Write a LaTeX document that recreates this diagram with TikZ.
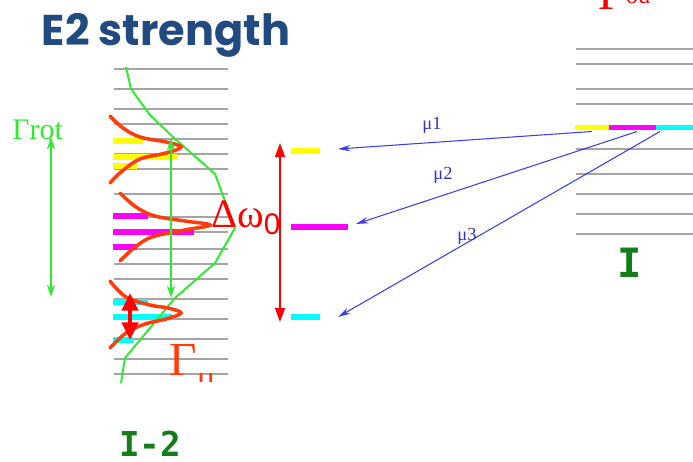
\documentclass[tikz,border=0pt]{standalone}
\usepackage{fontspec}
\setmainfont{Liberation Serif}
\newfontfamily\titlefont{Poppins}
\newfontfamily\bandfont{DejaVu Sans Mono}
\newfontfamily\digitfont{Liberation Sans}
\usepackage{xcolor}
\usepackage{tikz}
\usetikzlibrary{arrows.meta, positioning, calc}

\definecolor{titleblue}{RGB}{33,74,128}
\definecolor{spinred}{RGB}{255,60,10}
\definecolor{envgreen}{RGB}{45,235,45}
\definecolor{labgreen}{RGB}{20,125,25}
\definecolor{mublue}{RGB}{60,60,240}
\definecolor{lvlgray}{RGB}{165,165,165}
\definecolor{lvlyellow}{RGB}{255,255,0}
\definecolor{lvlmagenta}{RGB}{255,0,255}
\definecolor{lvlcyan}{RGB}{0,255,255}

\tikzset{
  %% Level line of a band
  ladder/.style={draw=lvlgray, line width=1.1pt},
  %% Coloured level (node)
  bar/.style={
    rectangle, fill=#1, inner sep=0pt,
    minimum height=1.1mm, outer sep=0pt
  },
  bar/.default=lvlyellow,
  %% Transition arrow
  muarr/.style={-{Stealth[length=7pt,width=3.6pt]},
                draw=mublue, line width=0.6pt},
  mulabel/.style={text=mublue!85!black, inner sep=0pt,
                  font=\fontsize{10.5}{10.5}\selectfont},
  %% Width arrows
  rotarr/.style={{Stealth[length=7pt,width=4.6pt]}-{Stealth[length=7pt,width=4.6pt]},
                 draw=envgreen, line width=1.1pt},
  widtharr/.style={{Triangle[length=8pt,width=5.6pt]}-{Triangle[length=8pt,width=5.6pt]},
                   draw=red, line width=1.2pt},
  gammaarr/.style={{Triangle[length=10pt,width=9pt]}-{Triangle[length=10pt,width=9pt]},
                   draw=red, line width=2.4pt},
  %% Strength curves
  peak/.style={draw=spinred, line width=2pt, line cap=round},
  envelope/.style={draw=envgreen, line width=1.1pt},
  %% Band names
  bandname/.style={text=labgreen, inner sep=0pt, anchor=base},
}

\begin{document}
\begin{tikzpicture}[x=0.2mm, y=-0.2mm]
  \useasboundingbox (0,0) rectangle (693,462);

  %% Title
  \node[anchor=base, text=titleblue, font=\titlefont\bfseries\fontsize{24.5}{24.5}\selectfont]
       (title) at (166,45) {E2 strength};

  %% Band I-2 (left)
  \draw[ladder] (114,69)  -- (228,69);
  \draw[ladder] (114,89)  -- (228,89);
  \draw[ladder] (114,109) -- (228,109);
  \draw[ladder] (114,124) -- (228,124);
  \draw[ladder] (114,139) -- (228,139);
  \draw[ladder] (114,154) -- (228,154);
  \draw[ladder] (114,169) -- (228,169);
  \draw[ladder] (114,194) -- (228,194);
  \draw[ladder] (114,217) -- (228,217);
  \draw[ladder] (114,232) -- (228,232);
  \draw[ladder] (114,249) -- (228,249);
  \draw[ladder] (114,264) -- (228,264);
  \draw[ladder] (114,279) -- (228,279);
  \draw[ladder] (114,299) -- (228,299);
  \draw[ladder] (114,319) -- (228,319);
  \draw[ladder] (114,339) -- (228,339);
  \draw[ladder] (114,359) -- (228,359);
  \draw[ladder] (114,374) -- (228,374);

  %% Coloured final states
  \fill[lvlyellow]  (113,138) rectangle (143,144);
  \fill[lvlyellow]  (113,154) rectangle (177,160);
  \fill[lvlyellow]  (113,163) rectangle (137,169);
  \fill[lvlmagenta] (113,213) rectangle (148,219);
  \fill[lvlmagenta] (113,229) rectangle (194,235);
  \fill[lvlmagenta] (113,244) rectangle (137,250);
  \fill[lvlcyan]    (113,299) rectangle (148,305);
  \fill[lvlcyan]    (113,314) rectangle (172,320);
  \fill[lvlcyan]    (113,337) rectangle (133,343);

  %% Envelope of the strength
  \draw[envelope] (126,67) -- (131,89) -- (150,115) -- (173,137) -- (215,174)
                  -- (235,228) -- (215,263) -- (175,298) -- (125,358) -- (121,383);

  %% Strength peaks
  \draw[peak] plot[smooth, tension=0.6] coordinates {(110,116) (123,128) (140,137)
       (166,142) (181,147) (166,153) (140,159) (121,172) (110,183)};
  \draw[peak] plot[smooth, tension=0.6] coordinates {(120,193) (136,207) (155,216)
       (185,221) (210,225) (185,230) (152,237) (134,248) (120,261)};
  \draw[peak] plot[smooth, tension=0.6] coordinates {(110,281) (126,297) (150,305)
       (168,308) (181,313) (166,319) (145,324) (126,333) (110,348)};

  %% Widths
  \coordinate (rottop) at (51,137);
  \coordinate (rotbot) at (51,297);
  \draw[rotarr] (rottop) -- (rotbot);
  \node[anchor=base west, text=envgreen, inner sep=0pt,
        font=\fontsize{17}{17}\selectfont] (grot) at (12,139) {Γrot};
  \coordinate (intop) at (171,138);
  \coordinate (inbot) at (171,298);
  \draw[rotarr] (intop) -- (inbot);
  \coordinate (mutop) at (130,293);
  \coordinate (mubot) at (130,340);
  \draw[gammaarr] (mutop) -- (mubot);
  \begin{scope}
    \clip (150,330) rectangle (250,381);
    \node[anchor=base west, text=spinred, inner sep=0pt,
          font=\fontsize{27}{27}\selectfont] (gmu) at (169,375)
          {Γ\raisebox{-8pt}{\fontsize{20}{20}\selectfont μ}};
  \end{scope}
  \node[anchor=base west, text=red, inner sep=0pt,
        font=\fontsize{23}{23}\selectfont] (dom) at (211,227)
        {Δω\raisebox{-4pt}{\digitfont\fontsize{17}{17}\selectfont 0}};

  %% Split levels
  \node[bar=lvlyellow,  minimum width=5.8mm]  (mY) at (305.5,151) {};
  \node[bar=lvlmagenta, minimum width=11.4mm] (mM) at (319.5,227) {};
  \node[bar=lvlcyan,    minimum width=5.8mm]  (mC) at (305.5,317) {};
  \coordinate (dtop) at (280,143);
  \coordinate (dbot) at (280,322);
  \draw[widtharr] (dtop) -- (dbot);

  %% Band I (right)
  \draw[ladder] (576,49)  -- (693,49);
  \draw[ladder] (576,64)  -- (693,64);
  \draw[ladder] (576,89)  -- (693,89);
  \draw[ladder] (576,104) -- (693,104);
  \draw[ladder] (576,149) -- (693,149);
  \draw[ladder] (576,174) -- (693,174);
  \draw[ladder] (576,194) -- (693,194);
  \draw[ladder] (576,214) -- (693,214);
  \draw[ladder] (576,234) -- (693,234);
  \node[bar=lvlyellow,  minimum height=1mm, minimum width=6.8mm] (rY) at (592,127) {};
  \node[bar=lvlmagenta, minimum height=1mm, minimum width=9.4mm] (rM) at (632.5,127) {};
  \node[bar=lvlcyan,    minimum height=1mm, minimum width=7.4mm] (rC) at (674.5,127) {};

  %% Transitions
  \draw[muarr] ([yshift=-0.4mm]rY.south) -- ([xshift=3.6mm,yshift=0.4mm]mY.east);
  \draw[muarr] ([xshift=0.9mm,yshift=-0.4mm]rM.south) -- ([xshift=1.6mm,yshift=0.6mm]mM.east);
  \draw[muarr] ([xshift=0.8mm,yshift=-0.4mm]rC.south west) -- ([xshift=3.6mm]mC.east);
  \node[mulabel] (mu1) at (432,125) {μ1};
  \node[mulabel] (mu2) at (443,175) {μ2};
  \node[mulabel] (mu3) at (467,236) {μ3};

  %% Band labels
  \node[bandname, font=\bandfont\bfseries\fontsize{23}{23}\selectfont]
       (bandI) at (630,277) {I};
  \node[bandname, font=\bandfont\bfseries\fontsize{19.5}{19.5}\selectfont]
       (bandII) at (150,456) {I-2};

  %% Cut-off label at the top
  \begin{scope}
    \clip (560,0) rectangle (693,30);
    \node[anchor=base west, text=red, inner sep=0pt,
          font=\fontsize{27}{27}\selectfont] (gtop) at (598,9)
          {Γ\raisebox{3pt}{\fontsize{14}{14}\selectfont ou}};
  \end{scope}

\end{tikzpicture}
\end{document}
